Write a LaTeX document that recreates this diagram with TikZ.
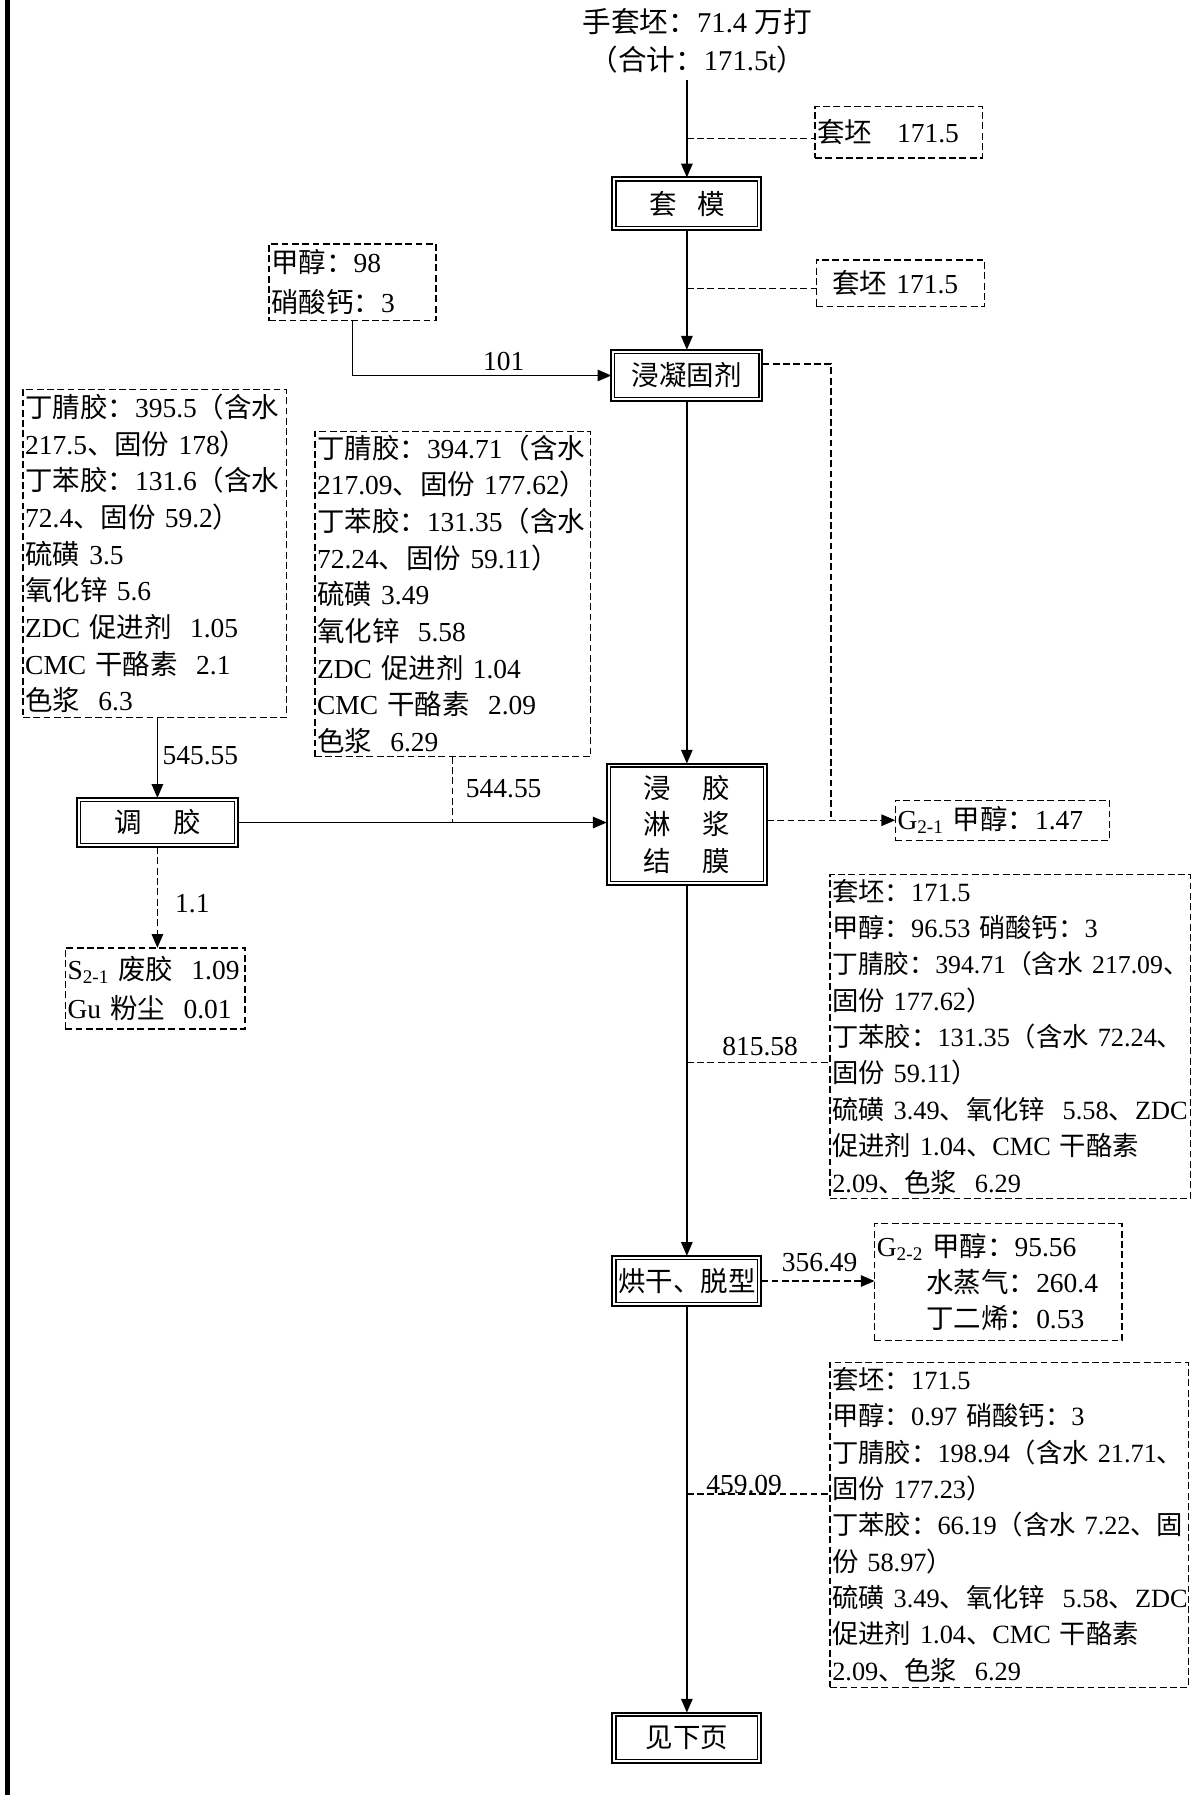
\documentclass[tikz,border=0pt]{standalone}
\usepackage{fontspec}
\setmainfont{Liberation Serif}
\newfontfamily\cjk{Noto Sans CJK SC}
\usetikzlibrary{arrows.meta,calc}
% automatic switch between the Latin and the CJK font
\XeTeXinterchartokenstate=1
\chardef\CJKcls=7
\newcount\cjkc
\def\setcjkrange#1#2{\cjkc=#1 \loop \XeTeXcharclass\cjkc=\CJKcls \advance\cjkc by 1 \ifnum\cjkc<#2 \repeat}
\setcjkrange{"3000}{"3040}
\setcjkrange{"4E00}{"A000}
\setcjkrange{"FF00}{"FFF0}
\XeTeXinterchartoks 0 \CJKcls = {\cjk}
\XeTeXinterchartoks 4095 \CJKcls = {\cjk}
\XeTeXinterchartoks \CJKcls 0 = {\rmfamily}
\XeTeXinterchartoks \CJKcls 4095 = {\rmfamily}
\newcommand\tightline[1]{{\fontsize{22.5bp}{31.75bp}\selectfont #1}}

\begin{document}
\begin{tikzpicture}[x=1bp,y=-1bp,line width=1.2bp,
  every node/.style={font=\fontsize{24bp}{32bp}\selectfont, inner sep=0pt, outer sep=0pt},
  proc/.style={draw, line width=1.8bp, minimum height=44bp, align=center,
    path picture={\draw[line width=1.1bp] ([shift={(3bp,3bp)}]path picture bounding box.south west) rectangle ([shift={(-3bp,-3bp)}]path picture bounding box.north east);}},
  dbox/.style={draw, dashed, align=left, inner xsep=2bp},
  dashed/.style={dash pattern=on 6bp off 3bp},
  arr/.style={-{Triangle[length=12bp,width=10bp]}}]

\fill[white] (0,0) rectangle (1043,1568);
\useasboundingbox (0,0) rectangle (1043,1568);
\fill[black] (4.3,0) rectangle (8.7,1568);

% main column
\node[align=center, font=\fontsize{25bp}{33bp}\selectfont] (top) at (609,35.5) {手套坯：71.4 万打\\（合计：171.5t）};
\node[proc, minimum width=130bp, minimum height=46bp] (n1) at (600,178) {套\hspace{0.75em}模};
\node[proc, minimum width=132bp, minimum height=45bp] (n2) at (600,328) {浸凝固剂};
\node[proc, minimum width=140bp, minimum height=106bp] (n3) at (600,720) {浸\hspace{1.15em}胶\\淋\hspace{1.15em}浆\\结\hspace{1.15em}膜};
\node[proc, minimum width=130bp] (n4) at (600,1119) {烘干、脱型};
\node[proc, minimum width=130bp] (n5) at (600,1518) {见下页};
\node[proc, minimum width=141bp, minimum height=43bp] (tj) at (137.5,718.5) {调\hspace{1.15em}胶};

% dashed boxes
\node[dbox, text width=142bp, minimum height=45bp] (tp1) at (785,115.5) {套坯\hspace{0.9em}171.5};
\node[dbox, text width=143bp, minimum height=41bp] (tp2) at (786.5,247.5) {\hspace*{0.5em}套坯 171.5};
\node[dbox, text width=142bp, minimum height=67bp, font=\fontsize{24bp}{35bp}\selectfont] (jc) at (308,246.5) {甲醇：98\\硝酸钙：3};
\node[dbox, text width=226bp, minimum height=287bp] (lb) at (135,483.5) {丁腈胶：395.5（含水\\217.5、固份~178）\\丁苯胶：131.6（含水\\72.4、固份~59.2）\\硫磺~3.5\\氧化锌~5.6\\ZDC~促进剂~~1.05\\CMC~干酪素~~2.1\\色浆~~6.3};
\node[dbox, text width=237bp, minimum height=284bp] (mb) at (395.5,519) {丁腈胶：394.71（含水\\217.09、固份~177.62）\\丁苯胶：131.35（含水\\72.24、固份~59.11）\\硫磺~3.49\\氧化锌~~5.58\\ZDC~促进剂~1.04\\CMC~干酪素~~2.09\\色浆~~6.29};
\node[dbox, text width=153bp, minimum height=71bp, font=\fontsize{24bp}{34bp}\selectfont] (s21) at (135.5,863.5) {S\textsubscript{2-1}~废胶~~1.09\\Gu~粉尘~~0.01};
\node[dbox, text width=183bp, minimum height=35bp] (g21) at (875.5,716.5) {G\textsubscript{2-1}~甲醇：1.47};
\node[dbox, text width=311bp, minimum height=283bp, font=\fontsize{23bp}{31.75bp}\selectfont] (rb1) at (882.5,905.5) {套坯：171.5\\甲醇：96.53~硝酸钙：3\\\tightline{丁腈胶：394.71（含水~217.09、}\\固份~177.62）\\丁苯胶：131.35（含水~72.24、\\固份~59.11）\\硫磺~3.49、氧化锌~~5.58、ZDC\\促进剂~1.04、CMC~干酪素\\2.09、色浆~~6.29};
\node[dbox, text width=212bp, minimum height=102bp, font=\fontsize{24bp}{31.5bp}\selectfont] (g22) at (872,1120) {G\textsubscript{2-2}~甲醇：95.56\\\hspace*{1.8em}水蒸气：260.4\\\hspace*{1.8em}丁二烯：0.53};
\node[dbox, text width=309bp, minimum height=284bp, font=\fontsize{23bp}{31.75bp}\selectfont] (rb2) at (881.5,1332) {套坯：171.5\\甲醇：0.97~硝酸钙：3\\丁腈胶：198.94（含水~21.71、\\固份~177.23）\\丁苯胶：66.19（含水~7.22、固\\份~58.97）\\硫磺~3.49、氧化锌~~5.58、ZDC\\促进剂~1.04、CMC~干酪素\\2.09、色浆~~6.29};

% flow labels
\node (l101) at (440,316) {101};
\node (l545) at (175,660) {545.55};
\node (l544) at (440,689) {544.55};
\node (l11) at (168,789) {1.1};
\node (l815) at (664,914) {815.58};
\node (l356) at (716,1103) {356.49};
\node (l459) at (650,1297) {459.09};

% connectors
\draw[arr] ([yshift=-6bp]top.south -| n1.north) -- (n1.north);
\coordinate (t1) at (600,121);
\draw[dashed] (t1) -- (t1 -| tp1.west);
\draw[arr] (n1.south) -- (n2.north);
\coordinate (t2) at (600,252);
\draw[dashed] (t2) -- (t2 -| tp2.west);
\draw[arr] (jc.south) |- (n2.west);
\draw[arr] (n2.south) -- (n3.north);
\draw[dashed] ([yshift=10bp]n2.east) -| ($(n3.east |- g21.west)!0.5!(g21.west)$);
\draw[dashed,arr] (n3.east |- g21.west) -- (g21.west);
\draw[arr] (tj.north |- lb.south) -- (tj.north);
\draw[arr] (tj.east) -- (tj.east -| n3.west);
\draw[dashed] (mb.south) -- (mb.south |- tj.east);
\draw[dashed,arr] (tj.south) -- (tj.south |- s21.north);
\coordinate (m1) at (600,928);
\draw[dashed] (m1) -- (m1 -| rb1.west);
\draw[arr] (n3.south) -- (n4.north);
\draw[dashed,arr] (n4.east) -- (n4.east -| g22.west);
\coordinate (m2) at (600,1305);
\draw[dashed] (m2) -- (m2 -| rb2.west);
\draw[arr] (n4.south) -- (n5.north);
\end{tikzpicture}
\end{document}
